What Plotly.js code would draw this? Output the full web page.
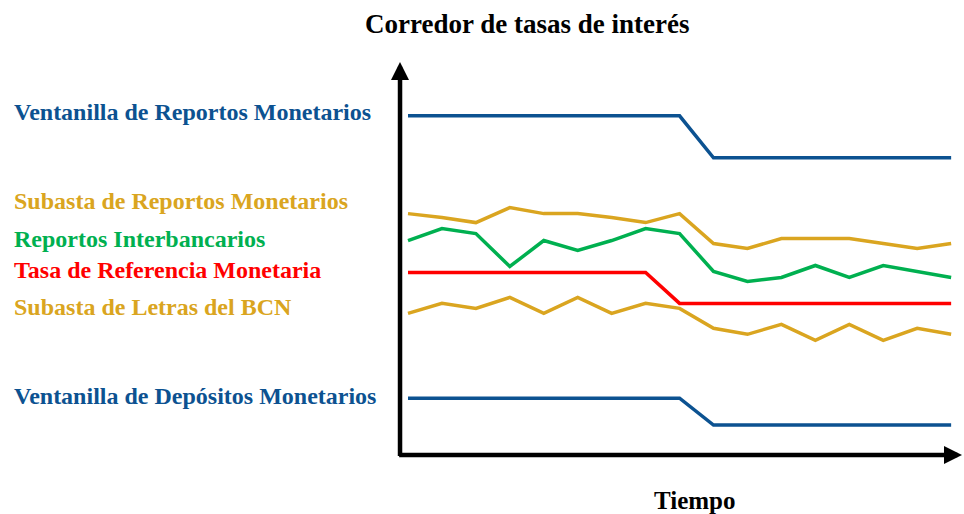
<!DOCTYPE html>
<html>
<head>
<meta charset="utf-8">
<script src="https://cdn.plot.ly/plotly-3.0.1.min.js"></script>
<style>html,body{margin:0;padding:0;background:#fff;}#chart{width:964px;height:514px;}</style>
</head>
<body>
<div id="chart"></div>
<script>
// Time periods (no labels shown on the axis)
const periods = [0,1,2,3,4,5,6,7,8,9,10,11,12,13,14,15,16];

// Series values (arbitrary rate units)
const ventanillaReportos = [34.2,34.2,34.2,34.2,34.2,34.2,34.2,34.2,34.2,30.0,30.0,30.0,30.0,30.0,30.0,30.0,30.0];
const subastaReportos    = [24.4,24.0,23.5,25.0,24.4,24.4,24.0,23.5,24.4,21.4,20.9,21.9,21.9,21.9,21.4,20.9,21.4];
const reportosInterbanc  = [21.7,22.9,22.4,19.1,21.7,20.7,21.7,22.9,22.4,18.6,17.6,18.0,19.2,18.0,19.2,18.6,18.0];
const tasaReferencia     = [18.5,18.5,18.5,18.5,18.5,18.5,18.5,18.5,15.4,15.4,15.4,15.4,15.4,15.4,15.4,15.4,15.4];
const subastaLetras      = [14.4,15.4,14.9,16.0,14.4,16.0,14.4,15.4,14.9,12.9,12.3,13.3,11.7,13.3,11.7,12.9,12.3];
const ventanillaDepositos= [5.9,5.9,5.9,5.9,5.9,5.9,5.9,5.9,5.9,3.2,3.2,3.2,3.2,3.2,3.2,3.2,3.2];

const seriesNames = [
  "Ventanilla de Reportos Monetarios",
  "Subasta de Reportos Monetarios",
  "Reportos Interbancarios",
  "Tasa de Referencia Monetaria",
  "Subasta de Letras del BCN",
  "Ventanilla de Depósitos Monetarios"
];

const BLUE = '#0C5291', GOLD = '#DAA520', GREEN = '#00B050', RED = '#FF0000';

const series = [
  {name: seriesNames[0], y: ventanillaReportos, color: BLUE, labelY: 34.6},
  {name: seriesNames[1], y: subastaReportos, color: GOLD, labelY: 25.7},
  {name: seriesNames[2], y: reportosInterbanc, color: GREEN, labelY: 21.9},
  {name: seriesNames[3], y: tasaReferencia, color: RED, labelY: 18.7},
  {name: seriesNames[4], y: subastaLetras, color: GOLD, labelY: 15.0},
  {name: seriesNames[5], y: ventanillaDepositos, color: BLUE, labelY: 6.1}
];

const traces = series.map(s => ({
  x: periods, y: s.y, name: s.name, type: 'scatter', mode: 'lines',
  line: {color: s.color, width: 3.5}, hoverinfo: 'skip'
}));

const FONT = '"Liberation Serif", "Times New Roman", serif';
const XMIN = -0.265, XMAX = 16.32, YMIN = 0, YMAX = 39.6;
const AX_X = XMIN + 0.03, AX_Y = YMIN + 0.2;

const annotations = series.map(s => ({
  xref: 'paper', yref: 'y', x: -0.687, y: s.labelY, xanchor: 'left', yanchor: 'middle',
  text: '<b>' + s.name + '</b>', showarrow: false,
  font: {family: FONT, size: 24, color: s.color}
}));

// axis arrows
annotations.push({
  xref: 'x', yref: 'y', axref: 'x', ayref: 'y',
  x: AX_X, y: YMAX, ax: AX_X, ay: YMIN - 0.05,
  text: '', showarrow: true, arrowhead: 2, arrowsize: 0.8, arrowwidth: 4.5, arrowcolor: '#000', standoff: 0
});
annotations.push({
  xref: 'x', yref: 'y', axref: 'x', ayref: 'y',
  x: XMAX, y: AX_Y, ax: XMIN - 0.04, ay: AX_Y,
  text: '', showarrow: true, arrowhead: 2, arrowsize: 0.8, arrowwidth: 4.5, arrowcolor: '#000', standoff: 0
});
annotations.push({
  xref: 'paper', yref: 'paper', x: 0.526, y: -0.109, xanchor: 'center', yanchor: 'middle',
  text: '<b>Tiempo</b>', showarrow: false, font: {family: FONT, size: 25, color: '#000'}
});

const layout = {
  width: 964, height: 514,
  margin: {l: 399, r: 2, t: 62, b: 57},
  paper_bgcolor: '#fff', plot_bgcolor: '#fff',
  showlegend: false,
  title: {text: '<b>Corredor de tasas de interés</b>', x: 0.547, xref: 'container', xanchor: 'center',
          y: 0.955, yref: 'container', yanchor: 'middle',
          font: {family: FONT, size: 27, color: '#000'}},
  xaxis: {range: [XMIN, XMAX], showgrid: false, zeroline: false, showticklabels: false, ticks: '', showline: false, fixedrange: true},
  yaxis: {range: [YMIN, YMAX], showgrid: false, zeroline: false, showticklabels: false, ticks: '', showline: false, fixedrange: true},
  annotations: annotations
};

Plotly.newPlot('chart', traces, layout, {displayModeBar: false, staticPlot: true});
</script>
</body>
</html>
